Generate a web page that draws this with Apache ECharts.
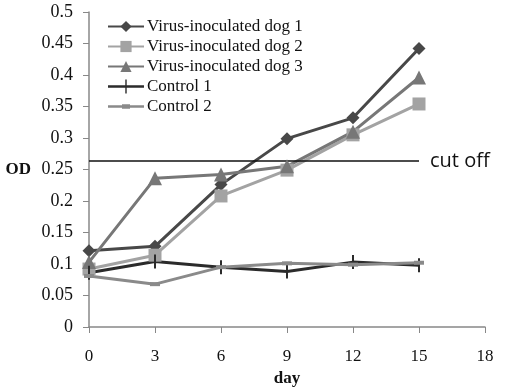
<!DOCTYPE html>
<html>
<head>
<meta charset="utf-8">
<script src="https://cdn.jsdelivr.net/npm/echarts@6/dist/echarts.min.js"></script>
<style>
  html, body { margin: 0; padding: 0; background: #fff; }
  #main { width: 532px; height: 392px; }
</style>
</head>
<body>
<div id="main"></div>
<script>
  // 数据
  var days = [0, 3, 6, 9, 12, 15];
  var dog1 = [0.121, 0.128, 0.226, 0.299, 0.332, 0.442];
  var dog2 = [0.092, 0.114, 0.208, 0.249, 0.305, 0.354];
  var dog3 = [0.103, 0.236, 0.242, 0.255, 0.310, 0.396];
  var control1 = [0.086, 0.104, 0.095, 0.088, 0.103, 0.098];
  var control2 = [0.081, 0.068, 0.095, 0.101, 0.099, 0.102];
  var cutoffX = [0, 15];
  var cutoffY = [0.2635, 0.2635];

  function pairs(xs, ys) {
    return xs.map(function (x, i) { return [x, ys[i]]; });
  }

  var myChart = echarts.init(document.getElementById('main'));
  var serif = 'Liberation Serif';

  function line(name, data, color, symbol, size) {
    return {
      name: name,
      type: 'line',
      data: pairs(days, data),
      symbol: symbol,
      symbolSize: size,
      color: color,
      lineStyle: { width: 3, color: color },
      itemStyle: { color: color },
      animation: false
    };
  }

  var noBorder = { borderWidth: 0, borderColor: 'transparent' };
  // 图例标记：36x14 的框，一条横线加细竖线 / 短粗横
  var tickIcon = 'path://M0,0H0.01V0.01H0ZM0,5.7H36V8.3H0ZM17.3,0H18.7V14H17.3ZM36,14H36.01V14.01H36Z';
  var dashIcon = 'path://M0,0H0.01V0.01H0ZM0,5.7H36V8.3H0ZM14,4.8H22V9.2H14ZM36,14H36.01V14.01H36Z';

  var option = {
    animation: false,
    grid: { left: 89, right: 47, top: 12, bottom: 65, outerBoundsMode: 'none' },
    legend: {
      left: 102,
      top: 13,
      orient: 'vertical',
      itemGap: 3,
      itemWidth: 36,
      itemHeight: 14,
      symbolKeepAspect: false,
      textStyle: { fontFamily: serif, fontSize: 17, color: '#111', padding: [0, 0, 0, -2] },
      data: [
        'Virus-inoculated dog 1',
        'Virus-inoculated dog 2',
        'Virus-inoculated dog 3',
        { name: 'Control 1', icon: tickIcon, itemStyle: noBorder },
        { name: 'Control 2', icon: dashIcon, itemStyle: noBorder }
      ]
    },
    xAxis: {
      type: 'value',
      min: 0,
      max: 18,
      interval: 3,
      name: 'day',
      nameLocation: 'middle',
      nameGap: 43,
      nameTextStyle: { fontFamily: serif, fontSize: 17, fontWeight: 'bold', color: '#111' },
      axisLine: { lineStyle: { color: '#888', width: 1.5 } },
      axisTick: { show: true, length: 6, lineStyle: { color: '#888' } },
      axisLabel: { fontFamily: serif, fontSize: 17, color: '#111', margin: 21 },
      splitLine: { show: false }
    },
    yAxis: {
      type: 'value',
      min: 0,
      max: 0.5,
      interval: 0.05,
      name: 'OD',
      nameLocation: 'middle',
      nameRotate: 0,
      nameGap: 58,
      nameTextStyle: { fontFamily: serif, fontSize: 17, fontWeight: 'bold', color: '#111' },
      axisLine: { show: true, lineStyle: { color: '#888', width: 1.5 } },
      axisTick: { show: true, length: 6, lineStyle: { color: '#888' } },
      axisLabel: { fontFamily: serif, fontSize: 18, color: '#111', margin: 16 },
      splitLine: { show: false }
    },
    series: [
      line('Virus-inoculated dog 1', dog1, '#484848', 'diamond', 13),
      line('Virus-inoculated dog 2', dog2, '#a3a3a3', 'rect', 13),
      line('Virus-inoculated dog 3', dog3, '#777777', 'triangle', 14),
      line('Control 1', control1, '#2b2b2b', 'path://M0,0H2V14H0Z', [2, 14]),
      line('Control 2', control2, '#8a8a8a', 'path://M0,0H10V4H0Z', [10, 4]),
      {
        name: 'cut off',
        type: 'line',
        data: pairs(cutoffX, cutoffY),
        symbol: 'none',
        lineStyle: { width: 1.5, color: '#111' },
        color: '#111',
        endLabel: {
          show: true,
          formatter: 'cut off',
          fontFamily: 'Open Sans',
          fontSize: 20,
          color: '#111',
          distance: 11
        },
        animation: false
      }
    ]
  };
  myChart.setOption(option);
</script>
</body>
</html>
